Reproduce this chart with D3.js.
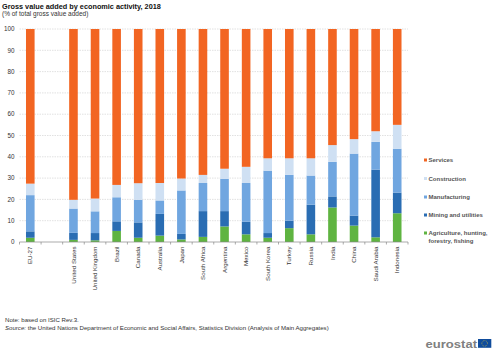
<!DOCTYPE html>
<html>
<head>
<meta charset="utf-8">
<script src="https://cdn.jsdelivr.net/npm/d3@7"></script>
<style>
    html, body { margin: 0; padding: 0; background: #fff; }
    text { font-family: "Liberation Sans", Arial, sans-serif; fill: #333; }
</style>
</head>
<body>
<div id="chart"></div>
<script>
const countries = ["EU-27", "", "United States", "United Kingdom", "Brazil", "Canada", "Australia", "Japan", "South Africa", "Argentina", "Mexico", "South Korea", "Turkey", "Russia", "India", "China", "Saudi Arabia", "Indonesia"];
const agriculture = [2, 0, 1, 0.8, 5.2, 2, 3, 1.2, 2.4, 7.3, 3.6, 2, 6.5, 3.6, 16.2, 7.7, 2.2, 13.5];
const mining = [3, 0, 3.3, 3.4, 4.5, 7.2, 10.2, 2.6, 12.1, 7.2, 5.9, 2.2, 3.5, 13.9, 5.2, 4.7, 31.8, 9.7];
const manufacturing = [17, 0, 11.4, 10.2, 11.3, 10.6, 6.3, 20.4, 13.2, 15.1, 18.2, 29.3, 21.5, 13.7, 16.2, 29.1, 13, 20.6];
const construction = [5.4, 0, 4.1, 6, 5.8, 7.8, 8.2, 5.6, 3.8, 4.8, 7.6, 5.8, 7.8, 8.1, 7.9, 6.8, 5, 11.2];
const services = [72.6, 0, 80.2, 79.6, 73.2, 72.4, 72.3, 70.2, 68.5, 65.6, 64.7, 60.7, 60.7, 60.7, 54.5, 51.7, 48, 45];
const yTicks = [0, 10, 20, 30, 40, 50, 60, 70, 80, 90, 100];
const seriesNames = ["Agriculture", "Mining", "Manufacturing", "Construction", "Services"];
const seriesColors = ["#5fb441", "#2a6db3", "#70a6e0", "#cfe0f3", "#f26522"];
const legendLabels = [["Services"], ["Construction"], ["Manufacturing"], ["Mining and utilities"], ["Agriculture, hunting,", "forestry, fishing"]];
const legendColors = ["#f26522", "#cfe0f3", "#70a6e0", "#2a6db3", "#5fb441"];

const margin = { top: 29, left: 19.5, bottom: 115, right: 92 };
const width = 500 - margin.left - margin.right;
const height = 357 - margin.top - margin.bottom;

const svg = d3.select("#chart").append("svg")
    .attr("width", 500)
    .attr("height", 357)
    .style("display", "block");

svg.append("text").attr("x", 2).attr("y", 8.5)
    .attr("font-size", 7.3).attr("font-weight", "bold").style("fill", "#111")
    .text("Gross value added by economic activity, 2018");
svg.append("text").attr("x", 2).attr("y", 16)
    .attr("font-size", 6.5)
    .text("(% of total gross value added)");

const g = svg.append("g").attr("transform", `translate(${margin.left}, ${margin.top})`);

const x = d3.scaleBand().domain(d3.range(countries.length)).range([0, width]);
const y = d3.scaleLinear().domain([0, 100]).range([height, 0]);

g.selectAll("line.grid").data(yTicks.slice(1)).enter().append("line")
    .attr("class", "grid")
    .attr("x1", 0).attr("x2", width)
    .attr("y1", d => y(d)).attr("y2", d => y(d))
    .attr("stroke", "#d9d9d9").attr("stroke-width", 0.8).attr("stroke-dasharray", "1.5,1");

yTicks.forEach(d => {
    g.append("text").attr("x", -5).attr("y", y(d) + 2.2)
        .attr("text-anchor", "end").attr("font-size", 6.3)
        .text(d);
});

const table = countries.map((c, i) => ({
    key: i,
    Agriculture: agriculture[i],
    Mining: mining[i],
    Manufacturing: manufacturing[i],
    Construction: construction[i],
    Services: services[i]
}));
const stacked = d3.stack().keys(seriesNames)(table);

stacked.forEach((layer, s) => {
    g.selectAll(`rect.s${s}`).data(layer).enter().append("rect")
        .attr("class", `s${s}`)
        .attr("x", d => x(d.data.key) + x.bandwidth() / 2 - 4.3)
        .attr("width", 8.6)
        .attr("y", d => y(d[1]))
        .attr("height", d => y(d[0]) - y(d[1]))
        .attr("fill", seriesColors[s]);
});

// axis with ticks between the categories
g.append("line").attr("x1", 0).attr("x2", width).attr("y1", height).attr("y2", height)
    .attr("stroke", "#888").attr("stroke-width", 0.7);
d3.range(countries.length + 1).forEach(i => {
    const px = i < countries.length ? x(i) : width;
    g.append("line").attr("x1", px).attr("x2", px).attr("y1", height).attr("y2", height + 2.5)
        .attr("stroke", "#888").attr("stroke-width", 0.7);
});

countries.forEach((c, i) => {
    g.append("text")
        .attr("transform", `translate(${x(i) + x.bandwidth() / 2 + 2.2}, ${height + 4.5}) rotate(-90)`)
        .attr("text-anchor", "end").attr("font-size", 6.2)
        .text(c);
});

// legend
const legendY = [160, 178.5, 197, 215, 233];
legendLabels.forEach((lines, i) => {
    svg.append("rect").attr("x", 424).attr("y", legendY[i] - 1.5)
        .attr("width", 3).attr("height", 3).attr("fill", legendColors[i]);
    lines.forEach((line, j) => {
        svg.append("text").attr("x", 428.5).attr("y", legendY[i] + 2.2 + j * 7.5)
            .attr("font-size", 6).attr("font-weight", "bold").style("fill", "#555")
            .text(line);
    });
});

// footer
svg.append("text").attr("x", 5).attr("y", 322).attr("font-size", 6.1).text("Note: based on ISIC Rev.3.");
const source = svg.append("text").attr("x", 5).attr("y", 330).attr("font-size", 6.1);
source.append("tspan").attr("font-style", "italic").text("Source:");
source.append("tspan").text(" the United Nations Department of Economic and Social Affairs, Statistics Division (Analysis of Main Aggregates)");

// logo
svg.append("text").attr("x", 425.5).attr("y", 347.7)
    .attr("font-size", 11.5).attr("font-weight", "bold").style("fill", "#808080")
    .attr("textLength", 51.5).attr("lengthAdjust", "spacingAndGlyphs")
    .text("eurostat");
svg.append("rect").attr("x", 478).attr("y", 339).attr("width", 13.3).attr("height", 8.8).attr("fill", "#0f4c9c");
svg.append("circle").attr("cx", 484.65).attr("cy", 343.4).attr("r", 2.8)
    .attr("fill", "none").attr("stroke", "#e5c93a").attr("stroke-width", 0.7).attr("stroke-dasharray", "0.7,0.9");
</script>
</body>
</html>
